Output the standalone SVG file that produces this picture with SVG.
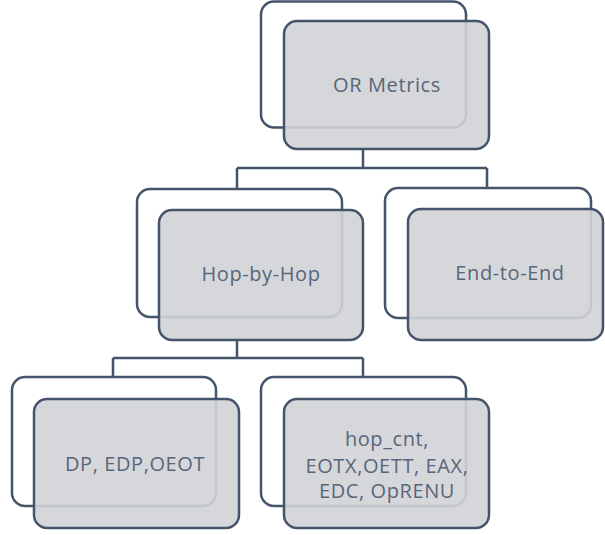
<svg xmlns="http://www.w3.org/2000/svg" width="605" height="535" viewBox="0 0 605 535">
  <style>
    .back { fill: #ffffff; stroke: #44546a; stroke-width: 2.5; }
    .front { fill: #d1d3d7; fill-opacity: 0.9; stroke: #44546a; stroke-width: 2.5; }
    .label { font-family: "Open Sans", "Liberation Sans", sans-serif; font-size: 20px; letter-spacing: 0.6px; fill: #58667a; text-anchor: middle; }
    .wire { fill: none; stroke: #44546a; stroke-width: 2.5; }
  </style>
  <rect width="605" height="535" fill="#ffffff"/>

  <g id="connectors">
    <path class="wire" d="M363 149 V168 M237 168 H487 M237 168 V189 M487 168 V188"/>
    <path class="wire" d="M237 340 V358 M113 358 H363 M113 358 V377 M363 358 V377"/>
  </g>

  <g id="or-metrics">
    <rect class="back" x="261" y="1.5" width="205" height="126" rx="13"/>
    <rect class="front" x="284" y="21" width="205" height="128" rx="13"/>
    <text class="label" x="387" y="92">OR Metrics</text>
  </g>

  <g id="hop-by-hop">
    <rect class="back" x="137" y="189" width="205" height="128" rx="13"/>
    <rect class="front" x="159" y="210" width="204" height="130" rx="13"/>
    <text class="label" x="261" y="281">Hop-by-Hop</text>
  </g>

  <g id="end-to-end">
    <rect class="back" x="385" y="188" width="206" height="130" rx="13"/>
    <rect class="front" x="408" y="209" width="195" height="131" rx="13"/>
    <text class="label" x="510" y="280">End-to-End</text>
  </g>

  <g id="dp-edp-oeot">
    <rect class="back" x="12" y="377" width="204" height="129" rx="13"/>
    <rect class="front" x="34" y="399" width="205" height="129" rx="13"/>
    <text class="label" x="135" y="471">DP, EDP,OEOT</text>
  </g>

  <g id="hop-cnt-group">
    <rect class="back" x="261" y="377" width="205" height="129" rx="13"/>
    <rect class="front" x="284" y="399" width="205" height="129" rx="13"/>
    <text class="label" x="387" y="446">hop_cnt,</text>
    <text class="label" x="387" y="473">EOTX,OETT, EAX,</text>
    <text class="label" x="387" y="498">EDC, OpRENU</text>
  </g>
</svg>
